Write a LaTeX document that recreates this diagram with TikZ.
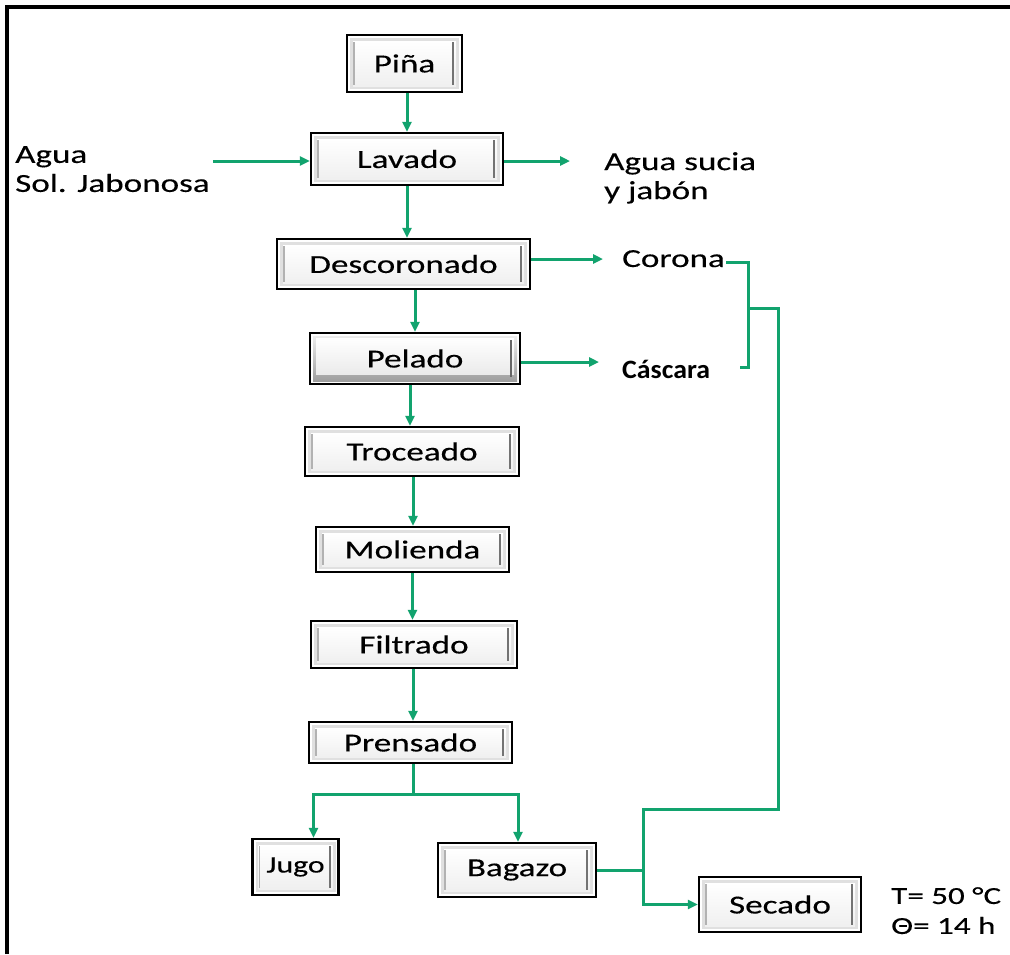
\documentclass[tikz,border=0pt]{standalone}
\usepackage{fontspec}
\setmainfont[FakeStretch=1.35,FakeBold=0.3]{Carlito}
\newfontfamily\cascfont[FakeStretch=1.05]{Carlito}
\usetikzlibrary{arrows.meta}
\definecolor{flowgreen}{RGB}{18,163,110}
\begin{document}
\begin{tikzpicture}[x=1pt,y=-1pt,
  every node/.style={font=\fontsize{26}{29}\selectfont, inner sep=0pt},
  box/.style={draw=black, line width=2.2pt, fill=white,
    path picture={
      \fill[black!12] ([shift={(3pt,-3pt)}]path picture bounding box.north west) rectangle ([shift={(-3pt,3pt)}]path picture bounding box.south east);
      \shade[top color=white, bottom color=black!6] ([shift={(6pt,-6pt)}]path picture bounding box.north west) rectangle ([shift={(-6pt,6pt)}]path picture bounding box.south east);
      \draw[black!55, line width=2pt] ([shift={(-9pt,-7pt)}]path picture bounding box.north east) -- ([shift={(-9pt,7pt)}]path picture bounding box.south east);
      \draw[black!30, line width=1.5pt] ([shift={(7pt,-7pt)}]path picture bounding box.north west) -- ([shift={(7pt,7pt)}]path picture bounding box.south west);
    }},
  darkbox/.style={box, path picture={
      \shade[top color=black!5, bottom color=black!40] ([shift={(3pt,-3pt)}]path picture bounding box.north west) rectangle ([shift={(-3pt,3pt)}]path picture bounding box.south east);
      \shade[top color=white, bottom color=black!8] ([shift={(6pt,-5pt)}]path picture bounding box.north west) rectangle ([shift={(-6pt,10pt)}]path picture bounding box.south east);
      \draw[black!60, line width=2pt] ([shift={(-9pt,-7pt)}]path picture bounding box.north east) -- ([shift={(-9pt,7pt)}]path picture bounding box.south east);
    }},
  gline/.style={draw=flowgreen, line width=3pt},
  garrow/.style={gline, -{Triangle[length=10pt,width=9pt]}},
  lbl/.style={align=left, anchor=north west},
]
\useasboundingbox (0,0) rectangle (1010,954);
% frame
\draw[line width=4pt] (7,954) -- (7,7) -- (1010,7);

% process boxes
\node[box, minimum width=115pt, minimum height=57pt] (pina) at (404.5,63.5) {Piña};
\node[box, minimum width=192pt, minimum height=52pt] (lav) at (407,159) {Lavado};
\node[box, minimum width=253pt, minimum height=50pt] (desc) at (403.5,264) {Descoronado};
\node[darkbox, minimum width=210pt, minimum height=51pt] (pel) at (415,358.5) {Pelado};
\node[box, minimum width=214pt, minimum height=49pt] (troc) at (412,451.5) {Troceado};
\node[box, minimum width=193pt, minimum height=45pt] (mol) at (412.5,549.5) {Molienda};
\node[box, minimum width=206pt, minimum height=47pt] (fil) at (414,644.5) {Filtrado};
\node[box, minimum width=203pt, minimum height=41pt] (pren) at (410.5,742.5) {Prensado};
\node[box, minimum width=86pt, minimum height=56pt, font=\fontsize{23.5}{28}\selectfont] (jugo) at (295.5,867) {Jugo};
\node[box, minimum width=158pt, minimum height=54pt] (bag) at (517,870) {Bagazo};
\node[box, minimum width=162pt, minimum height=55pt] (sec) at (780,904.5) {Secado};

% side labels
\node[lbl] (agua) at (15,146) {Agua\\Sol. Jabonosa};
\node[lbl] (sucia) at (604,152) {Agua sucia\\y jabón};
\node[anchor=base west] (corona) at (622,267) {Corona};
\node[anchor=base west, font=\cascfont\bfseries\fontsize{26.5}{28}\selectfont] (casc) at (622,378) {Cáscara};
\node[lbl, font=\fontsize{24.5}{30}\selectfont] (cond) at (891,887) {T= 50 °C\\Θ= 14 h};

% main vertical flow
\draw[garrow] (pina.south -| lav.north) -- (lav.north);
\draw[garrow] (lav.south) -- (lav.south |- desc.north);
\draw[garrow] (desc.south -| pel.north) -- (pel.north);
\draw[garrow] ([xshift=-5pt]pel.south) -- ([xshift=-5pt]pel.south |- troc.north);
\draw[garrow] ([xshift=1pt]troc.south) -- ([xshift=1pt]troc.south |- mol.north);
\draw[garrow] (mol.south) -- (mol.south |- fil.north);
\draw[garrow] ([xshift=-1pt]fil.south) -- ([xshift=-1pt]fil.south |- pren.north);

% split after Prensado
\coordinate (split) at (413,794);
\draw[gline] ([xshift=2.5pt]pren.south) -- (split);
\draw[garrow] (split) -| ([xshift=18pt]jugo.north);
\draw[garrow] (split) -| ([xshift=1pt]bag.north);

% inputs / outputs of Lavado
\coordinate (ain) at (213,161);
\coordinate (aout) at (570,161);
\draw[garrow] (ain) -- (ain -| lav.west);
\draw[garrow] (aout -| lav.east) -- (aout);

% Descoronado -> Corona, Pelado -> Cascara
\coordinate (crin) at (603,259);
\draw[garrow] (desc.east |- crin) -- (crin);
\coordinate (cout) at (599,362);
\draw[garrow] (cout -| pel.east) -- (cout);

% bracket and return line to Secado
\coordinate (b1) at (748,262);
\coordinate (b2) at (748,367);
\coordinate (b3) at (740,367);
\coordinate (bm) at (748,308);
\coordinate (r1) at (778,308);
\coordinate (r2) at (778,809);
\coordinate (j1) at (643,809);
\coordinate (j2) at (643,870);
\draw[gline] ([xshift=1pt]corona.east |- b1) -- (b1) -- (b2) -- (b3);
\draw[gline] (bm) -- (r1) -- (r2) -- (j1) -- (j2);
\draw[gline] (bag.east |- j2) -- (j2);
\draw[garrow] (j2) |- (sec.west);
\end{tikzpicture}
\end{document}
